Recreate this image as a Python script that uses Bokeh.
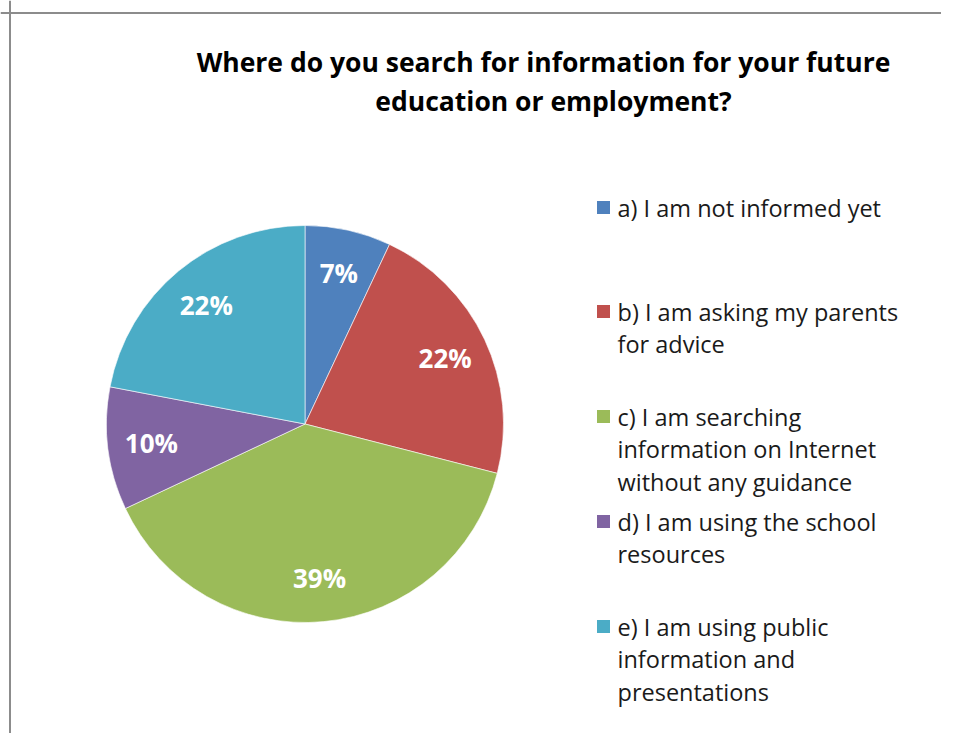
import math
from bokeh.plotting import figure
from bokeh.models import Range1d, Span, ColumnDataSource
from bokeh.core.properties import value
from bokeh.embed import file_html
from bokeh.resources import INLINE

# ---- data ----
categories = [
    "a) I am not informed yet",
    "b) I am asking my parents for advice",
    "c) I am searching information on Internet without any guidance",
    "d) I am using the school resources",
    "e) I am using public information and presentations",
]
legend_lines = [
    ["a) I am not informed yet"],
    ["b) I am asking my parents", "for advice"],
    ["c) I am searching", "information on Internet", "without any guidance"],
    ["d) I am using the school", "resources"],
    ["e) I am using public", "information and", "presentations"],
]
percent = [7, 22, 39, 10, 22]
colors = ["#4F81BD", "#C0504D", "#9BBB59", "#8064A2", "#4BACC6"]
title_lines = ["Where do you search for information for your future",
               "education or employment?"]

W, H = 941, 733
FONT = "Open Sans"

def X(px):
    return px

def Y(py):
    return H - py

p = figure(width=W, height=H, output_backend="svg", toolbar_location=None,
           x_range=Range1d(0, W), y_range=Range1d(0, H),
           x_axis_type=None, y_axis_type=None,
           min_border=0, min_border_left=0, min_border_right=0,
           min_border_top=0, min_border_bottom=0)
p.grid.visible = False
p.outline_line_color = None
p.background_fill_color = "white"
p.border_fill_color = "white"

# chart-area border (left and top visible in the reference)
p.add_layout(Span(location=X(9.5), dimension="height", line_color="#8c8c8c", line_width=2))
p.add_layout(Span(location=Y(12.5), dimension="width", line_color="#8c8c8c", line_width=2))

# ---- pie ----
cx, cy, R = X(304.5), Y(423.5), 198.5
total = sum(percent)
starts, ends, lx, ly, labels = [], [], [], [], []
cum = 0.0
for v in percent:
    a0 = math.pi / 2 - 2 * math.pi * cum / total
    cum += v
    a1 = math.pi / 2 - 2 * math.pi * cum / total
    starts.append(a0)
    ends.append(a1)
    mid = (a0 + a1) / 2
    lx.append(cx + 0.78 * R * math.cos(mid))
    ly.append(cy + 0.78 * R * math.sin(mid))
    labels.append(f"{v}%")

src = ColumnDataSource(dict(start=starts, end=ends, color=colors, cat=categories))
p.wedge(x=cx, y=cy, radius=R, start_angle="start", end_angle="end",
        direction="clock", fill_color="color", line_color="white",
        line_width=0.6, source=src)

p.text(x=lx, y=ly, text=labels, text_color="white", text_font=value(FONT),
       text_font_style="bold", text_font_size="26px",
       text_align="center", text_baseline="middle")

# ---- title ----
p.text(x=[X(543), X(553)], y=[Y(61), Y(100)], text=title_lines,
       text_color="black", text_font=value(FONT), text_font_style="bold",
       text_font_size="26.5px", text_align="center", text_baseline="middle")

# ---- legend ----
entry_tops = [207, 311, 416, 521, 626]
line_gap = 32.5
sq_x, sq_y, txt_x, txt_y = [], [], [], []
txt = []
for top, lines in zip(entry_tops, legend_lines):
    sq_x.append(X(603))
    sq_y.append(Y(top))
    for i, ln in enumerate(lines):
        txt_x.append(X(617))
        txt_y.append(Y(top + i * line_gap))
        txt.append(ln)

p.rect(x=sq_x, y=sq_y, width=13, height=13, width_units="screen",
       height_units="screen", fill_color=colors, line_color=None)
p.text(x=txt_x, y=txt_y, text=txt, text_color="#1a1a1a", text_font=value(FONT),
       text_font_size="23.5px", text_align="left", text_baseline="middle")

open("out.html", "w").write(file_html(p, INLINE))
